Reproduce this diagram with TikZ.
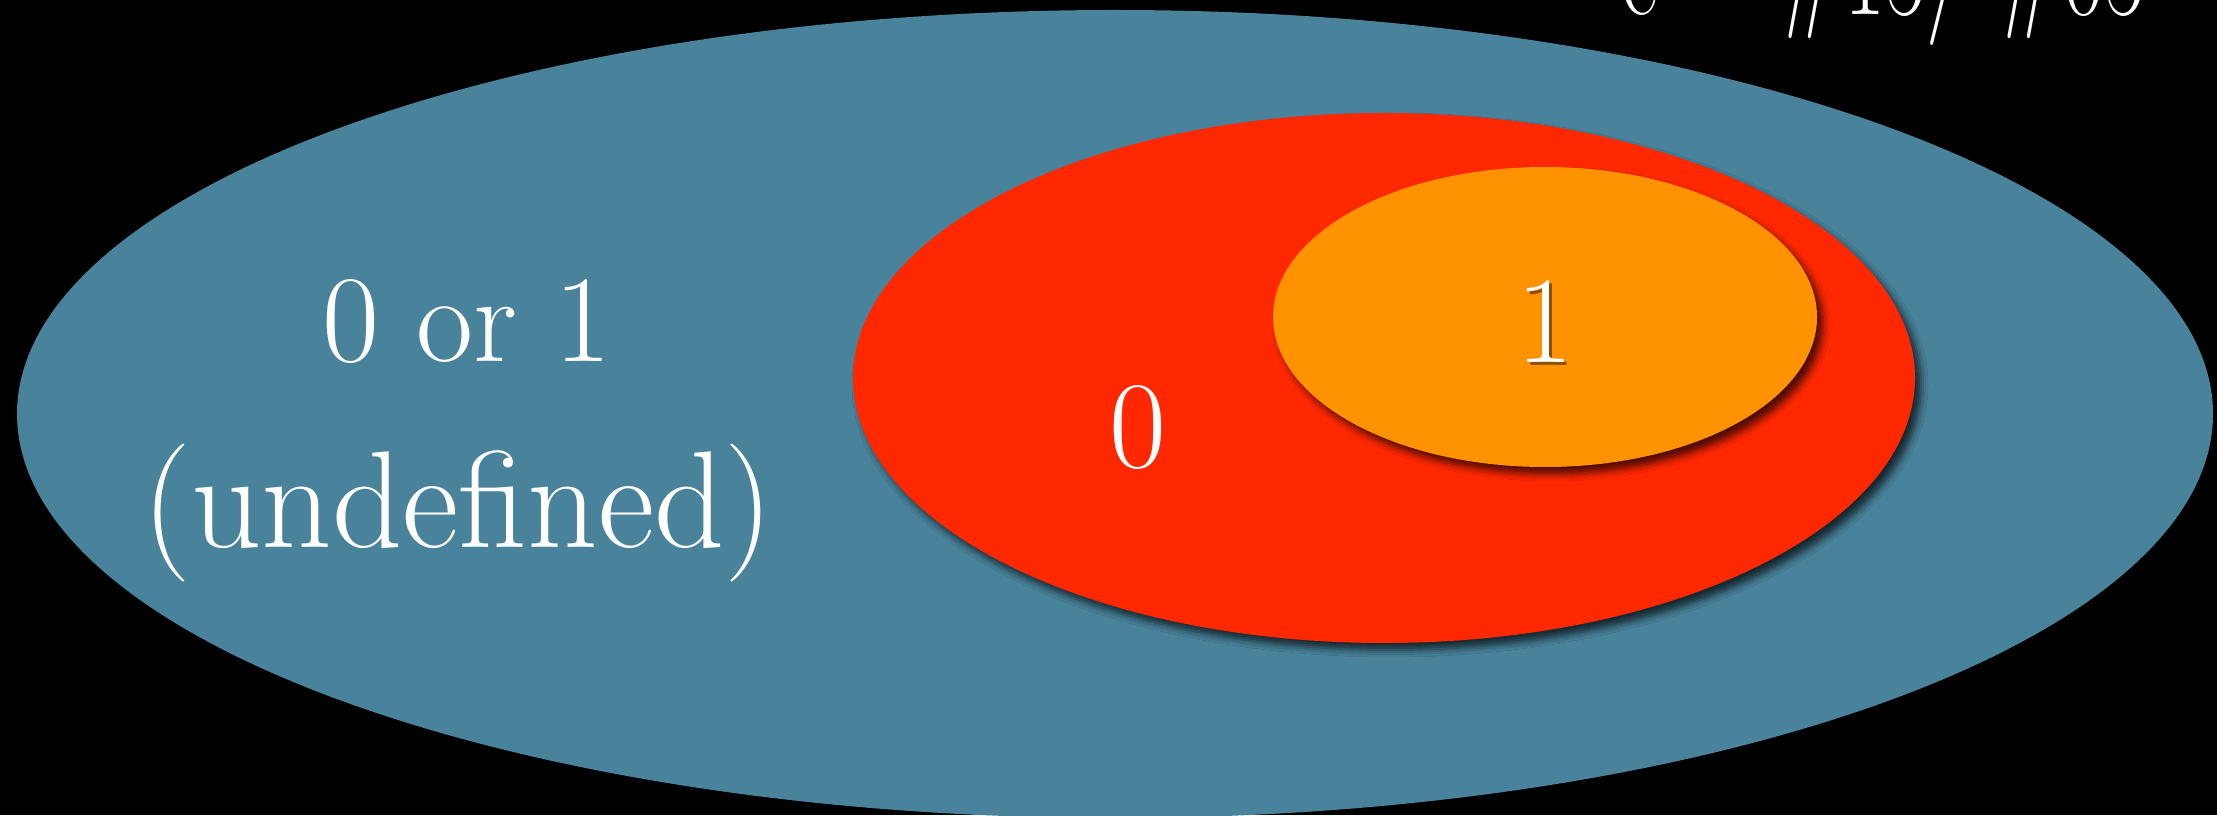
\documentclass[tikz,border=0pt]{standalone}
\usetikzlibrary{shapes.geometric,shadows.blur}
\definecolor{bgblue}{RGB}{72,130,155}
\definecolor{zred}{RGB}{255,40,0}
\definecolor{oorange}{RGB}{255,146,0}
\tikzset{
  region/.style={ellipse, inner sep=0pt, draw=none},
  shadowed/.style={blur shadow={shadow xshift=3pt, shadow yshift=-3.5pt, shadow blur radius=3.5pt, shadow opacity=70}},
  lbl/.style={text=white, inner sep=0pt, anchor=base, font=\fontsize{62}{74}\selectfont},
}
\begin{document}
\begin{tikzpicture}[x=0.5pt,y=0.5pt]
\fill[black] (0,0) rectangle (2217,815);
\useasboundingbox (0,0) rectangle (2217,815);
\node[region, fill=bgblue, minimum width=2196pt*0.5, minimum height=808pt*0.5] (undef) at (1115,401) {};
\node[region, fill=zred, shadowed, minimum width=1062pt*0.5, minimum height=530pt*0.5] (zero) at (1384,437) {};
\node[region, fill=oorange, shadowed, minimum width=544pt*0.5, minimum height=300pt*0.5] (one) at (1545,498) {};
\node[lbl] (t1) at (467,453) {0 or 1};
\node[lbl, font=\fontsize{69}{80}\selectfont] (t2) at (458,268) {(undefined)};
\node[lbl] (t0) at (1138,347) {0};
\node[lbl, text=black, opacity=0.45] (t1s) at (1548,449) {1};
\node[lbl] (tone) at (1545,452) {1};
\node[lbl, anchor=base east] (title) at (2146,800) {\scalebox{0.72}[1]{c = \#15/ \#05}};
\end{tikzpicture}
\end{document}
